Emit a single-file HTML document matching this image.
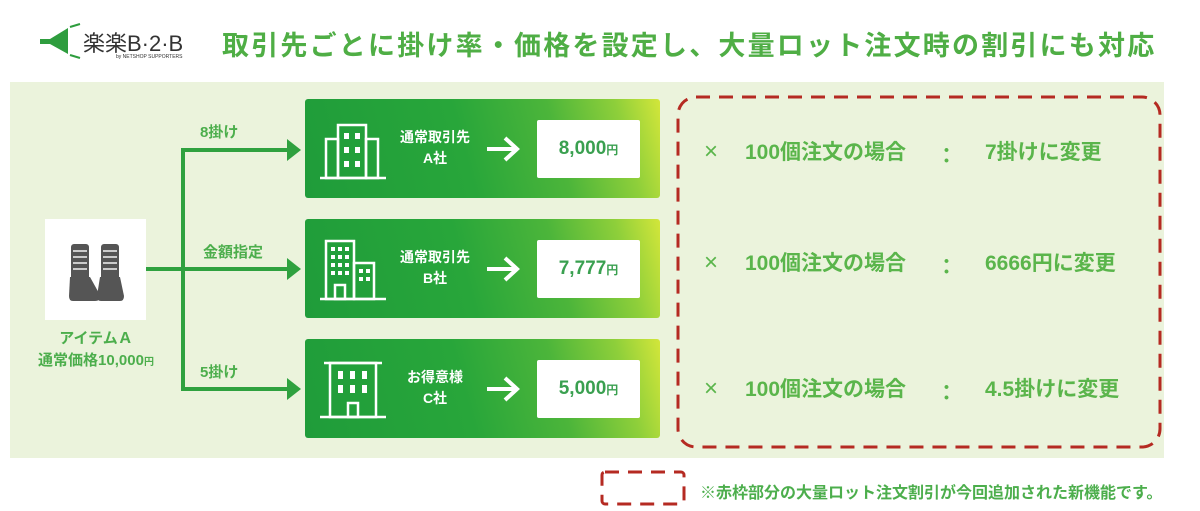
<!DOCTYPE html>
<html><head><meta charset="utf-8"><style>
body{margin:0;width:1200px;height:511px;background:#fff;position:relative;overflow:hidden;font-family:"Liberation Sans","Noto Sans CJK JP",sans-serif;font-weight:bold}
.a{position:absolute}
.panel{left:10px;top:82px;width:1154px;height:376px;background:#ebf3dc}
.box{left:305px;width:355px;height:99px;border-radius:3px;background:linear-gradient(75deg,#1f9c3a 0%,#28a63a 45%,#4cb53a 70%,#8ecf3a 88%,#d3e63a 100%)}
.price{left:232px;top:21px;width:103px;height:58px;background:#fff;border-radius:2px;color:#3aa050;font-size:19px;text-align:center;line-height:58px}
.price small{font-size:12px}
.nm{left:88px;width:84px;top:28px;color:#fff;font-size:14px;text-align:center;line-height:21px}
.g{color:#4cae4c}
.lab{font-size:15px;color:#4cae4c}
.rt{font-size:21px;color:#5ab54b;white-space:nowrap}
.x{font-size:24px;font-weight:normal}
.ar{left:182px;top:36px;width:34px;height:28px}
</style></head><body>
<div class="a" style="left:38px;top:22px;width:170px;height:40px">
<svg width="45" height="40" class="a" style="left:0;top:0"><polygon points="2,17 12,17 30,6 30,32 12,22 2,22" fill="#2e9d3e"/><line x1="32" y1="5" x2="42" y2="2" stroke="#2e9d3e" stroke-width="2"/><line x1="32" y1="33" x2="42" y2="36" stroke="#2e9d3e" stroke-width="2"/></svg>
<div class="a" style="left:45px;top:4px;font-size:22px;color:#333;font-weight:normal">楽楽B·2·B</div>
<div class="a" style="left:78px;top:32px;font-size:5px;color:#333;font-weight:normal">by NETSHOP SUPPORTERS</div>
</div>
<div class="a g" style="left:222px;top:24px;font-size:27px;color:#4fae45;letter-spacing:2.2px;white-space:nowrap">取引先ごとに掛け率・価格を設定し、大量ロット注文時の割引にも対応</div>
<div class="a panel"></div>
<svg class="a" style="left:0;top:0" width="1200" height="511">
<g stroke="#2fa13f" stroke-width="4" fill="none">
<line x1="146" y1="269" x2="290" y2="269"/>
<line x1="183" y1="150" x2="183" y2="389"/>
<line x1="181" y1="150" x2="290" y2="150"/>
<line x1="181" y1="389" x2="290" y2="389"/>
</g>
<g fill="#2fa13f"><polygon points="287,139 301,150 287,161"/><polygon points="287,258 301,269 287,280"/><polygon points="287,378 301,389 287,400"/></g>
<rect x="678" y="97" width="482" height="350" rx="18" fill="none" stroke="#b52a22" stroke-width="3" stroke-dasharray="14,9"/>
<rect x="602" y="472" width="82" height="32" rx="3" fill="none" stroke="#b52a22" stroke-width="3" stroke-dasharray="14,9"/>
</svg>
<div class="a" style="left:45px;top:219px;width:101px;height:101px;background:#fff">
<svg width="101" height="101"><g fill="#555"><rect x="26" y="25" width="18" height="38" rx="3"/><rect x="56" y="25" width="18" height="38" rx="3"/><path d="M25 58 h20 l10 18 q1 6 -5 6 h-22 q-4 0 -4 -5z"/><path d="M55 58 h20 l4 19 q0 5 -4 5 h-19 q-4 0 -4 -5z"/></g><g stroke="#ccc" stroke-width="2"><line x1="28" y1="32" x2="42" y2="32"/><line x1="28" y1="38" x2="42" y2="38"/><line x1="28" y1="44" x2="42" y2="44"/><line x1="28" y1="50" x2="42" y2="50"/><line x1="58" y1="32" x2="72" y2="32"/><line x1="58" y1="38" x2="72" y2="38"/><line x1="58" y1="44" x2="72" y2="44"/><line x1="58" y1="50" x2="72" y2="50"/></g></svg></div>
<div class="a lab" style="left:25px;top:328px;width:142px;text-align:center;line-height:22px">アイテムＡ<br>通常価格10,000<small style="font-size:10px">円</small></div>
<div class="a lab" style="left:200px;top:121px">8掛け</div>
<div class="a lab" style="left:203px;top:241px">金額指定</div>
<div class="a lab" style="left:200px;top:361px">5掛け</div>

<div class="a box" style="top:99px">
<svg class="a" style="left:15px;top:22px" width="66" height="60" fill="none" stroke="#fff" stroke-width="2.5"><rect x="18" y="4" width="28" height="53"/><rect x="6" y="18" width="12" height="39"/><rect x="46" y="18" width="12" height="39"/><line x1="0" y1="57" x2="66" y2="57"/><g fill="#fff" stroke="none"><rect x="24" y="12" width="5" height="6"/><rect x="35" y="12" width="5" height="6"/><rect x="24" y="26" width="5" height="6"/><rect x="35" y="26" width="5" height="6"/><rect x="24" y="40" width="5" height="6"/><rect x="35" y="40" width="5" height="6"/></g></svg>
<div class="a nm">通常取引先<br>A社</div>
<svg class="a ar" viewBox="0 0 34 28"><line x1="0" y1="14" x2="28" y2="14" stroke="#fff" stroke-width="4"/><polyline points="18,3 30,14 18,25" fill="none" stroke="#fff" stroke-width="4"/></svg>
<div class="a price">8,000<small>円</small></div></div>

<div class="a box" style="top:219px">
<svg class="a" style="left:15px;top:18px" width="66" height="64" fill="none" stroke="#fff" stroke-width="2.5"><rect x="6" y="4" width="28" height="58"/><rect x="34" y="26" width="20" height="36"/><line x1="0" y1="62" x2="66" y2="62"/><g fill="#fff" stroke="none"><rect x="11" y="10" width="4" height="4"/><rect x="18" y="10" width="4" height="4"/><rect x="25" y="10" width="4" height="4"/><rect x="11" y="18" width="4" height="4"/><rect x="18" y="18" width="4" height="4"/><rect x="25" y="18" width="4" height="4"/><rect x="11" y="26" width="4" height="4"/><rect x="18" y="26" width="4" height="4"/><rect x="25" y="26" width="4" height="4"/><rect x="11" y="34" width="4" height="4"/><rect x="18" y="34" width="4" height="4"/><rect x="25" y="34" width="4" height="4"/><rect x="39" y="32" width="4" height="4"/><rect x="46" y="32" width="4" height="4"/><rect x="39" y="40" width="4" height="4"/><rect x="46" y="40" width="4" height="4"/></g><rect x="15" y="48" width="10" height="14"/></svg>
<div class="a nm">通常取引先<br>B社</div>
<svg class="a ar" viewBox="0 0 34 28"><line x1="0" y1="14" x2="28" y2="14" stroke="#fff" stroke-width="4"/><polyline points="18,3 30,14 18,25" fill="none" stroke="#fff" stroke-width="4"/></svg>
<div class="a price">7,777<small>円</small></div></div>

<div class="a box" style="top:339px">
<svg class="a" style="left:15px;top:20px" width="66" height="62" fill="none" stroke="#fff" stroke-width="2.5"><line x1="4" y1="4" x2="62" y2="4"/><rect x="10" y="4" width="46" height="54"/><line x1="0" y1="58" x2="66" y2="58"/><rect x="28" y="44" width="10" height="14"/><g fill="#fff" stroke="none"><rect x="18" y="12" width="5" height="8"/><rect x="30" y="12" width="5" height="8"/><rect x="42" y="12" width="5" height="8"/><rect x="18" y="26" width="5" height="8"/><rect x="30" y="26" width="5" height="8"/><rect x="42" y="26" width="5" height="8"/></g></svg>
<div class="a nm">お得意様<br>C社</div>
<svg class="a ar" viewBox="0 0 34 28"><line x1="0" y1="14" x2="28" y2="14" stroke="#fff" stroke-width="4"/><polyline points="18,3 30,14 18,25" fill="none" stroke="#fff" stroke-width="4"/></svg>
<div class="a price">5,000<small>円</small></div></div>

<div class="a rt x" style="left:704px;top:138px">×</div>
<div class="a rt" style="left:745px;top:136px">100個注文の場合</div>
<div class="a rt" style="left:936px;top:140px">：</div>
<div class="a rt" style="left:985px;top:136px">7掛けに変更</div>
<div class="a rt x" style="left:704px;top:249px">×</div>
<div class="a rt" style="left:745px;top:247px">100個注文の場合</div>
<div class="a rt" style="left:936px;top:251px">：</div>
<div class="a rt" style="left:985px;top:247px">6666円に変更</div>
<div class="a rt x" style="left:704px;top:375px">×</div>
<div class="a rt" style="left:745px;top:373px">100個注文の場合</div>
<div class="a rt" style="left:936px;top:377px">：</div>
<div class="a rt" style="left:985px;top:373px">4.5掛けに変更</div>
<div class="a" style="left:700px;top:479px;font-size:16px;color:#4cae4c;white-space:nowrap">※赤枠部分の大量ロット注文割引が今回追加された新機能です。</div>
</body></html>
